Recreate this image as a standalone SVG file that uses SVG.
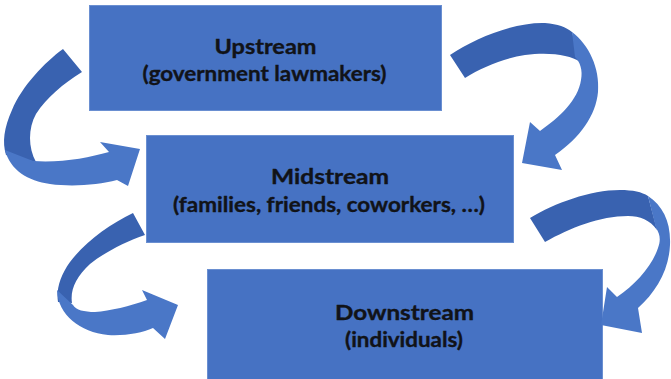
<svg xmlns="http://www.w3.org/2000/svg" width="671" height="379" viewBox="0 0 671 379">
  <style>
    .box { fill: #4672c3; stroke: #6a8fd1; stroke-width: 1; }
    .title { font-family: Lato, "Open Sans", "Liberation Sans", sans-serif; font-weight: 700; font-size: 20px; fill: #111318; stroke: #111318; stroke-width: 0.35; text-anchor: middle; }
    .back { fill: #3962b0; }
    .front { fill: #4a77c7; }
  </style>
  <rect width="671" height="379" fill="#ffffff"/>

  <g id="upstream">
    <rect class="box" x="89.5" y="5.5" width="352" height="105"/>
    <text class="title" x="265.5" y="54" textLength="102" lengthAdjust="spacingAndGlyphs">Upstream</text>
    <text class="title" x="264.5" y="81" textLength="244" lengthAdjust="spacingAndGlyphs">(government lawmakers)</text>
  </g>

  <g id="midstream">
    <rect class="box" x="146.5" y="135.5" width="367" height="107"/>
    <text class="title" x="330" y="184" textLength="118" lengthAdjust="spacingAndGlyphs">Midstream</text>
    <text class="title" x="329" y="212" textLength="312" lengthAdjust="spacingAndGlyphs">(families, friends, coworkers, …)</text>
  </g>

  <g id="downstream">
    <rect class="box" x="207.5" y="269.5" width="395" height="112"/>
    <text class="title" x="404.5" y="320" textLength="139" lengthAdjust="spacingAndGlyphs">Downstream</text>
    <text class="title" x="404" y="347" textLength="118" lengthAdjust="spacingAndGlyphs">(individuals)</text>
  </g>

  <!-- curved arrows: darker back ribbon, lighter front ribbon with head -->
  <g id="connectors">
    <g id="arrow-up-to-mid">
      <path class="back" d="M63,49 C45,62 22,86 12,110 C4,128 2,142 6,155 L36,162 C28,148 28,128 36,114 C47,97 63,84 82,72 Z"/>
      <path class="front" d="M5,150 C10,170 28,181 50,184 C72,187 98,185 117,180 L128,186 L140,149 L100,142 L109,152 C88,158 60,163 33,161 Z"/>
    </g>
    <g id="arrow-up-to-mid-right">
      <path class="back" d="M450,55 C475,38 515,22 545,23 C558,24 566,27 572,32 L580,62 C570,55 550,52 525,55 C505,58 482,67 465,78 Z"/>
      <path class="front" d="M572,32 C589,45 600,68 598,92 C596,115 580,138 555,155 L562,170 L522,163 L530,122 L540,131 C560,117 578,100 581,80 C583,70 580,62 575,57 Z"/>
    </g>
    <g id="arrow-mid-to-down">
      <path class="back" d="M133,213 C110,224 85,242 70,262 C60,276 56,290 58,302 L72,303 C70,290 76,277 90,264 C105,252 125,242 145,235 Z"/>
      <path class="front" d="M57,290 C58,315 80,332 108,335 C125,336 142,333 153,328 L165,339 L178,305 L142,290 L147,300 C130,306 110,311 95,312 C84,312 76,310 73,305 Z"/>
    </g>
    <g id="arrow-mid-to-down-right">
      <path class="back" d="M530,218 C555,203 590,190 620,190 C633,190 642,192 648,196 L657,230 C650,220 640,216 628,216 C600,216 570,228 545,242 Z"/>
      <path class="front" d="M648,196 C663,206 671,222 670,245 C669,270 656,292 638,308 L642,333 L601,325 L607,287 L617,297 C636,284 652,266 658,248 C661,240 660,234 656,228 Z"/>
    </g>
  </g>
</svg>
